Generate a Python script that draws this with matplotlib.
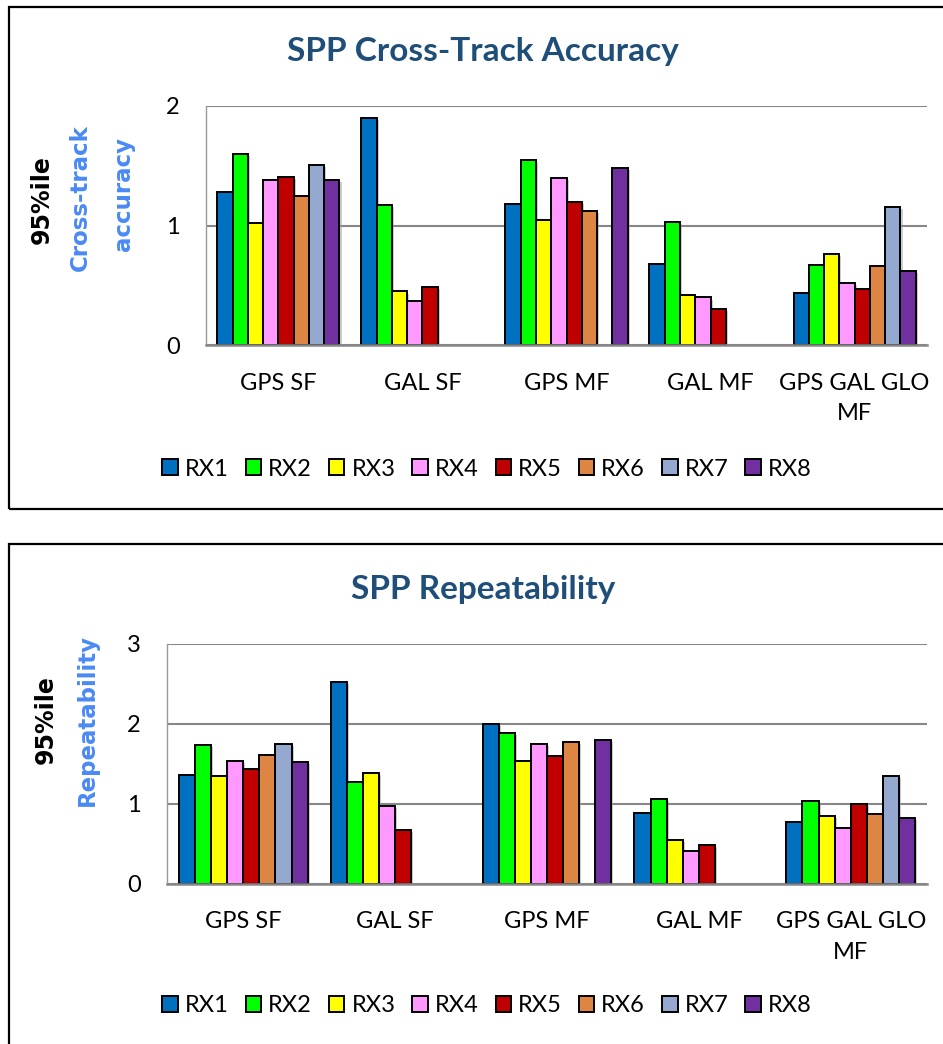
import numpy as np
import matplotlib
matplotlib.use("Agg")
import matplotlib.pyplot as plt
from matplotlib.patches import Rectangle
import matplotlib.patheffects as pe

plt.rcParams['font.family'] = ['Lato', 'DejaVu Sans']

categories = ["GPS SF", "GAL SF", "GPS MF", "GAL MF", "GPS GAL GLO\nMF"]
receivers = ["RX1", "RX2", "RX3", "RX4", "RX5", "RX6", "RX7", "RX8"]
colors = ["#0070C0", "#00FF00", "#FFFF00", "#FF99FF", "#C00000", "#DD8543", "#95A8D0", "#7030A0"]

nan = np.nan
# Cross-track accuracy (rows = categories, cols = RX1..RX8)
cross_track = [
    [1.28, 1.60, 1.02, 1.38, 1.41, 1.25, 1.51, 1.38],
    [1.90, 1.17, 0.45, 0.37, 0.49, nan, nan, nan],
    [1.18, 1.55, 1.05, 1.40, 1.20, 1.12, nan, 1.48],
    [0.68, 1.03, 0.42, 0.40, 0.30, nan, nan, nan],
    [0.44, 0.67, 0.76, 0.52, 0.47, 0.66, 1.16, 0.62],
]
# Repeatability
repeatability = [
    [1.36, 1.74, 1.35, 1.54, 1.44, 1.61, 1.75, 1.52],
    [2.52, 1.27, 1.39, 0.97, 0.67, nan, nan, nan],
    [2.00, 1.89, 1.54, 1.75, 1.60, 1.77, nan, 1.80],
    [0.88, 1.06, 0.55, 0.41, 0.48, nan, nan, nan],
    [0.77, 1.03, 0.85, 0.70, 1.00, 0.87, 1.35, 0.82],
]

W, H = 943, 1044
fig = plt.figure(figsize=(W / 100, H / 100), dpi=100)

title_color = "#1F4E79"
label_blue = "#4A8AF4"
grid_color = "#878787"


def fx(px):
    return px / W


def fy(py):
    return 1 - py / H


def draw_panel(rect, data, ymax, title, title_y, ylabel_lines, lab95, labblue, legend_y):
    ax = fig.add_axes(rect)
    vals = np.array(data, dtype=float)
    n_cat, n_rx = vals.shape
    w = 0.106
    x = np.arange(n_cat)
    for j in range(n_rx):
        xs = x + (j - (n_rx - 1) / 2) * w
        v = vals[:, j]
        m = ~np.isnan(v)
        bars = ax.bar(xs[m], v[m], width=w, color=colors[j], edgecolor="black",
                      linewidth=1.4, label=receivers[j], zorder=3)
        for b in bars:
            b.set_path_effects([pe.SimplePatchShadow(offset=(1.5, -1.5), shadow_rgbFace="#999999", alpha=0.5),
                                pe.Normal()])
    ax.set_xlim(-0.5, n_cat - 0.5)
    ax.set_ylim(0, ymax)
    ax.set_yticks(np.arange(0, ymax + 1))
    ax.yaxis.grid(True, color=grid_color, linewidth=1.5)
    ax.set_axisbelow(True)
    ax.set_xticks(x)
    ax.set_xticklabels(categories, fontsize=17, linespacing=1.55)
    ax.tick_params(axis="x", length=0, pad=20)
    ax.tick_params(axis="y", length=0, pad=19, labelsize=17)
    for s in ["top", "right"]:
        ax.spines[s].set_visible(False)
    ax.spines["left"].set_color("#999999")
    ax.spines["left"].set_linewidth(1.0)
    ax.spines["bottom"].set_color(grid_color)
    ax.spines["bottom"].set_linewidth(1.8)
    ax.spines["bottom"].set_zorder(4)

    fig.text(fx(483), fy(title_y), title, ha="center", va="center", fontsize=24,
             fontweight="bold", color=title_color)
    fig.text(fx(lab95[0]), fy(lab95[1]), "95%ile", rotation=90, ha="center", va="center",
             fontsize=17, fontweight="bold", color="black", family="DejaVu Sans")
    for line, (lx, ly) in zip(ylabel_lines, labblue):
        fig.text(fx(lx), fy(ly), line, rotation=90, ha="center", va="center",
                 fontsize=16.5, fontweight="bold", color=label_blue, family="DejaVu Sans")

    handles, labels = ax.get_legend_handles_labels()
    leg = fig.legend(handles, labels, loc="center", bbox_to_anchor=(fx(487), fy(legend_y)),
                     ncol=8, frameon=False, fontsize=17, handlelength=0.65, handleheight=0.65,
                     handletextpad=0.3, columnspacing=0.72)
    for h in leg.legend_handles:
        h.set_path_effects([])
    return ax


draw_panel([fx(206.3), fy(345.3), fx(926.7) - fx(206.3), fy(106) - fy(345.3)],
           cross_track, 2, "SPP Cross-Track Accuracy", 51,
           ["Cross-track", "accuracy"], (42, 200), [(80, 198), (124, 194)], 469)
draw_panel([fx(167.3), fy(883.7), fx(926.7) - fx(167.3), fy(644) - fy(883.7)],
           repeatability, 3, "SPP Repeatability", 589,
           ["Repeatability"], (46, 720), [(87, 720)], 1006)

# Outer chart frames
fig.add_artist(Rectangle((fx(9), fy(509)), 1.0, (509 - 7) / H, transform=fig.transFigure,
                         fill=False, edgecolor="black", linewidth=1.6))
fig.add_artist(Rectangle((fx(8.5), fy(1100)), 1.0, (1100 - 544) / H, transform=fig.transFigure,
                         fill=False, edgecolor="black", linewidth=1.6))

fig.savefig("out.png", dpi=100, facecolor="white")
